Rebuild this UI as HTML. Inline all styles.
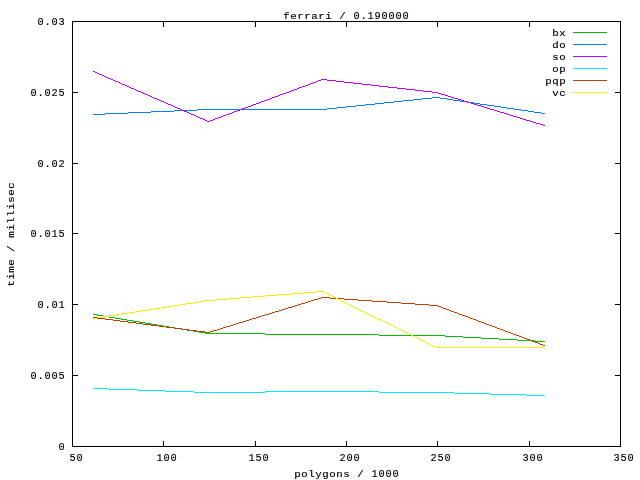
<!DOCTYPE html>
<html lang="en">
<head>
<meta charset="utf-8">
<title>ferrari / 0.190000</title>
<style>
html,body{margin:0;padding:0;background:#fff;}
body{width:640px;height:480px;overflow:hidden;}
svg{display:block;}
text{font-family:"Liberation Mono","DejaVu Sans Mono",monospace;fill:#000;stroke:#000;stroke-width:0.15;white-space:pre;}
.n{font-size:10.3px;letter-spacing:0.819px;}
.a{font-size:9.6px;letter-spacing:0.489px;}
.ax{stroke:#000;stroke-width:1;fill:none;shape-rendering:crispEdges;}
.px{stroke:none;shape-rendering:crispEdges;}
.ln{stroke-width:1;fill:none;shape-rendering:crispEdges;stroke-linejoin:miter;}
</style>
</head>
<body>
<svg width="640" height="480" viewBox="0 0 640 480">
<rect x="0" y="0" width="640" height="480" fill="#ffffff"/>
<path class="px" fill="#000000" d="M72 21h549v1h-549zM72 446h549v1h-549zM72 21h1v426h-1zM620 21h1v426h-1zM73 375h5v1h-5zM615 375h5v1h-5zM73 304h5v1h-5zM615 304h5v1h-5zM73 233h5v1h-5zM615 233h5v1h-5zM73 163h5v1h-5zM615 163h5v1h-5zM73 92h5v1h-5zM615 92h5v1h-5zM163 441h1v5h-1zM163 22h1v5h-1zM255 441h1v5h-1zM255 22h1v5h-1zM346 441h1v5h-1zM346 22h1v5h-1zM437 441h1v5h-1zM437 22h1v5h-1zM529 441h1v5h-1zM529 22h1v5h-1z"/>
<text class="n" x="58.41" y="450">0</text>
<text class="n" x="30.41" y="379">0.005</text>
<text class="n" x="37.41" y="308">0.01</text>
<text class="n" x="30.41" y="237">0.015</text>
<text class="n" x="37.41" y="167">0.02</text>
<text class="n" x="30.41" y="96">0.025</text>
<text class="n" x="37.41" y="25">0.03</text>
<text class="n" x="69.41" y="461">50</text>
<text class="n" x="156.41" y="461">100</text>
<text class="n" x="248.41" y="461">150</text>
<text class="n" x="339.41" y="461">200</text>
<text class="n" x="430.41" y="461">250</text>
<text class="n" x="522.41" y="461">300</text>
<text class="n" x="613.41" y="461">350</text>
<text class="a" transform="translate(283.27,19) scale(1.12,1)">ferrari /</text>
<text class="n" x="353.41" y="19">0.190000</text>
<text class="a" transform="translate(294.27,477) scale(1.12,1)">polygons /</text>
<text class="n" x="371.41" y="477">1000</text>
<text class="a" transform="translate(14,286.73) rotate(-90) scale(1.12,1)">time / millisec</text>
<text class="a" transform="translate(552.27,36) scale(1.12,1)">bx</text>
<path class="px" fill="#00c000" d="M573 32h34v1h-34z"/>
<text class="a" transform="translate(552.27,48) scale(1.12,1)">do</text>
<path class="px" fill="#0080ff" d="M573 44h34v1h-34z"/>
<text class="a" transform="translate(552.27,60) scale(1.12,1)">so</text>
<path class="px" fill="#c000ff" d="M573 56h34v1h-34z"/>
<text class="a" transform="translate(552.27,72) scale(1.12,1)">op</text>
<path class="px" fill="#00eeee" d="M573 68h34v1h-34z"/>
<text class="a" transform="translate(545.27,84) scale(1.12,1)">pqp</text>
<path class="px" fill="#c04000" d="M573 80h34v1h-34z"/>
<text class="a" transform="translate(552.27,96) scale(1.12,1)">vc</text>
<path class="px" fill="#eeee00" d="M573 92h34v1h-34z"/>
<path class="px" fill="#00c000" d="M93 314h4v1h-4zM97 315h6v1h-6zM103 316h6v1h-6zM109 317h6v1h-6zM115 318h6v1h-6zM121 319h6v1h-6zM127 320h6v1h-6zM133 321h6v1h-6zM139 322h6v1h-6zM145 323h6v1h-6zM151 324h6v1h-6zM157 325h6v1h-6zM163 326h6v1h-6zM169 327h6v1h-6zM175 328h6v1h-6zM181 329h6v1h-6zM187 330h6v1h-6zM193 331h6v1h-6zM199 332h6v1h-6zM205 333h60v1h-60zM265 334h114v1h-114zM379 335h66v1h-66zM445 336h18v1h-18zM463 337h18v1h-18zM481 338h18v1h-18zM499 339h18v1h-18zM517 340h18v1h-18zM535 341h10v1h-10z"/>
<path class="px" fill="#0080ff" d="M93 114h12v1h-12zM105 113h23v1h-23zM128 112h23v1h-23zM151 111h23v1h-23zM174 110h23v1h-23zM197 109h130v1h-130zM327 108h10v1h-10zM337 107h9v1h-9zM346 106h10v1h-10zM356 105h9v1h-9zM365 104h10v1h-10zM375 103h9v1h-9zM384 102h10v1h-10zM394 101h9v1h-9zM403 100h10v1h-10zM413 99h9v1h-9zM422 98h10v1h-10zM432 97h8v1h-8zM440 98h7v1h-7zM447 99h6v1h-6zM453 100h7v1h-7zM460 101h7v1h-7zM467 102h7v1h-7zM474 103h6v1h-6zM480 104h7v1h-7zM487 105h7v1h-7zM494 106h7v1h-7zM501 107h6v1h-6zM507 108h7v1h-7zM514 109h7v1h-7zM521 110h7v1h-7zM528 111h6v1h-6zM534 112h7v1h-7zM541 113h4v1h-4z"/>
<path class="px" fill="#c000ff" d="M93 71h2v1h-2zM95 72h2v1h-2zM97 73h2v1h-2zM99 74h3v1h-3zM102 75h2v1h-2zM104 76h2v1h-2zM106 77h2v1h-2zM108 78h3v1h-3zM111 79h2v1h-2zM113 80h2v1h-2zM115 81h3v1h-3zM118 82h2v1h-2zM120 83h2v1h-2zM122 84h3v1h-3zM125 85h2v1h-2zM127 86h2v1h-2zM129 87h2v1h-2zM131 88h3v1h-3zM134 89h2v1h-2zM136 90h2v1h-2zM138 91h3v1h-3zM141 92h2v1h-2zM143 93h2v1h-2zM145 94h3v1h-3zM148 95h2v1h-2zM150 96h2v1h-2zM152 97h2v1h-2zM154 98h3v1h-3zM157 99h2v1h-2zM159 100h2v1h-2zM161 101h3v1h-3zM164 102h2v1h-2zM166 103h2v1h-2zM168 104h3v1h-3zM171 105h2v1h-2zM173 106h2v1h-2zM175 107h2v1h-2zM177 108h3v1h-3zM180 109h2v1h-2zM182 110h2v1h-2zM184 111h3v1h-3zM187 112h2v1h-2zM189 113h2v1h-2zM191 114h3v1h-3zM194 115h2v1h-2zM196 116h2v1h-2zM198 117h2v1h-2zM200 118h3v1h-3zM203 119h2v1h-2zM205 120h2v1h-2zM207 121h3v1h-3zM210 120h3v1h-3zM213 119h2v1h-2zM215 118h3v1h-3zM218 117h3v1h-3zM221 116h2v1h-2zM223 115h3v1h-3zM226 114h3v1h-3zM229 113h3v1h-3zM232 112h2v1h-2zM234 111h3v1h-3zM237 110h3v1h-3zM240 109h2v1h-2zM242 108h3v1h-3zM245 107h3v1h-3zM248 106h3v1h-3zM251 105h2v1h-2zM253 104h3v1h-3zM256 103h3v1h-3zM259 102h2v1h-2zM261 101h3v1h-3zM264 100h3v1h-3zM267 99h3v1h-3zM270 98h2v1h-2zM272 97h3v1h-3zM275 96h3v1h-3zM278 95h2v1h-2zM280 94h3v1h-3zM283 93h3v1h-3zM286 92h3v1h-3zM289 91h2v1h-2zM291 90h3v1h-3zM294 89h3v1h-3zM297 88h2v1h-2zM299 87h3v1h-3zM302 86h3v1h-3zM305 85h3v1h-3zM308 84h2v1h-2zM310 83h3v1h-3zM313 82h3v1h-3zM316 81h2v1h-2zM318 80h3v1h-3zM321 79h6v1h-6zM327 80h9v1h-9zM336 81h8v1h-8zM344 82h9v1h-9zM353 83h9v1h-9zM362 84h9v1h-9zM371 85h8v1h-8zM379 86h9v1h-9zM388 87h9v1h-9zM397 88h9v1h-9zM406 89h9v1h-9zM415 90h8v1h-8zM423 91h9v1h-9zM432 92h6v1h-6zM438 93h3v1h-3zM441 94h4v1h-4zM445 95h3v1h-3zM448 96h3v1h-3zM451 97h3v1h-3zM454 98h4v1h-4zM458 99h3v1h-3zM461 100h3v1h-3zM464 101h4v1h-4zM468 102h3v1h-3zM471 103h3v1h-3zM474 104h3v1h-3zM477 105h4v1h-4zM481 106h3v1h-3zM484 107h3v1h-3zM487 108h3v1h-3zM490 109h4v1h-4zM494 110h3v1h-3zM497 111h3v1h-3zM500 112h4v1h-4zM504 113h3v1h-3zM507 114h3v1h-3zM510 115h3v1h-3zM513 116h4v1h-4zM517 117h3v1h-3zM520 118h3v1h-3zM523 119h3v1h-3zM526 120h4v1h-4zM530 121h3v1h-3zM533 122h3v1h-3zM536 123h4v1h-4zM540 124h3v1h-3zM543 125h2v1h-2z"/>
<path class="px" fill="#00eeee" d="M93 388h15v1h-15zM108 389h29v1h-29zM137 390h28v1h-28zM165 391h29v1h-29zM194 392h71v1h-71zM265 391h114v1h-114zM379 392h75v1h-75zM454 393h36v1h-36zM490 394h36v1h-36zM526 395h19v1h-19z"/>
<path class="px" fill="#c04000" d="M93 317h4v1h-4zM97 318h8v1h-8zM105 319h8v1h-8zM113 320h7v1h-7zM120 321h8v1h-8zM128 322h8v1h-8zM136 323h7v1h-7zM143 324h8v1h-8zM151 325h8v1h-8zM159 326h7v1h-7zM166 327h8v1h-8zM174 328h8v1h-8zM182 329h7v1h-7zM189 330h8v1h-8zM197 331h8v1h-8zM205 332h5v1h-5zM210 331h3v1h-3zM213 330h4v1h-4zM217 329h3v1h-3zM220 328h3v1h-3zM223 327h3v1h-3zM226 326h4v1h-4zM230 325h3v1h-3zM233 324h3v1h-3zM236 323h3v1h-3zM239 322h4v1h-4zM243 321h3v1h-3zM246 320h3v1h-3zM249 319h3v1h-3zM252 318h4v1h-4zM256 317h3v1h-3zM259 316h3v1h-3zM262 315h3v1h-3zM265 314h4v1h-4zM269 313h3v1h-3zM272 312h3v1h-3zM275 311h4v1h-4zM279 310h3v1h-3zM282 309h3v1h-3zM285 308h3v1h-3zM288 307h4v1h-4zM292 306h3v1h-3zM295 305h3v1h-3zM298 304h3v1h-3zM301 303h4v1h-4zM305 302h3v1h-3zM308 301h3v1h-3zM311 300h3v1h-3zM314 299h4v1h-4zM318 298h3v1h-3zM321 297h9v1h-9zM330 298h14v1h-14zM344 299h14v1h-14zM358 300h14v1h-14zM372 301h15v1h-15zM387 302h14v1h-14zM401 303h14v1h-14zM415 304h14v1h-14zM429 305h9v1h-9zM438 306h3v1h-3zM441 307h2v1h-2zM443 308h3v1h-3zM446 309h3v1h-3zM449 310h2v1h-2zM451 311h3v1h-3zM454 312h3v1h-3zM457 313h2v1h-2zM459 314h3v1h-3zM462 315h3v1h-3zM465 316h3v1h-3zM468 317h2v1h-2zM470 318h3v1h-3zM473 319h3v1h-3zM476 320h2v1h-2zM478 321h3v1h-3zM481 322h3v1h-3zM484 323h2v1h-2zM486 324h3v1h-3zM489 325h3v1h-3zM492 326h3v1h-3zM495 327h2v1h-2zM497 328h3v1h-3zM500 329h3v1h-3zM503 330h2v1h-2zM505 331h3v1h-3zM508 332h3v1h-3zM511 333h2v1h-2zM513 334h3v1h-3zM516 335h3v1h-3zM519 336h3v1h-3zM522 337h2v1h-2zM524 338h3v1h-3zM527 339h3v1h-3zM530 340h2v1h-2zM532 341h3v1h-3zM535 342h3v1h-3zM538 343h2v1h-2zM540 344h3v1h-3zM543 345h2v1h-2z"/>
<path class="px" fill="#eeee00" d="M93 318h4v1h-4zM97 317h6v1h-6zM103 316h6v1h-6zM109 315h7v1h-7zM116 314h6v1h-6zM122 313h7v1h-7zM129 312h6v1h-6zM135 311h6v1h-6zM141 310h7v1h-7zM148 309h6v1h-6zM154 308h7v1h-7zM161 307h6v1h-6zM167 306h6v1h-6zM173 305h7v1h-7zM180 304h6v1h-6zM186 303h7v1h-7zM193 302h6v1h-6zM199 301h6v1h-6zM205 300h10v1h-10zM215 299h12v1h-12zM227 298h13v1h-13zM240 297h13v1h-13zM253 296h12v1h-12zM265 295h13v1h-13zM278 294h13v1h-13zM291 293h12v1h-12zM303 292h13v1h-13zM316 291h8v1h-8zM324 292h2v1h-2zM326 293h2v1h-2zM328 294h2v1h-2zM330 295h2v1h-2zM332 296h2v1h-2zM334 297h2v1h-2zM336 298h2v1h-2zM338 299h2v1h-2zM340 300h2v1h-2zM342 301h2v1h-2zM344 302h2v1h-2zM346 303h2v1h-2zM348 304h2v1h-2zM350 305h2v1h-2zM352 306h2v1h-2zM354 307h2v1h-2zM356 308h2v1h-2zM358 309h2v1h-2zM360 310h2v1h-2zM362 311h2v1h-2zM364 312h2v1h-2zM366 313h2v1h-2zM368 314h2v1h-2zM370 315h2v1h-2zM372 316h2v1h-2zM374 317h2v1h-2zM376 318h2v1h-2zM378 319h3v1h-3zM381 320h2v1h-2zM383 321h2v1h-2zM385 322h2v1h-2zM387 323h2v1h-2zM389 324h2v1h-2zM391 325h2v1h-2zM393 326h2v1h-2zM395 327h2v1h-2zM397 328h2v1h-2zM399 329h2v1h-2zM401 330h2v1h-2zM403 331h2v1h-2zM405 332h2v1h-2zM407 333h2v1h-2zM409 334h2v1h-2zM411 335h2v1h-2zM413 336h2v1h-2zM415 337h2v1h-2zM417 338h2v1h-2zM419 339h2v1h-2zM421 340h2v1h-2zM423 341h2v1h-2zM425 342h2v1h-2zM427 343h2v1h-2zM429 344h2v1h-2zM431 345h2v1h-2zM433 346h2v1h-2zM435 347h110v1h-110z"/>
</svg>
</body>
</html>
